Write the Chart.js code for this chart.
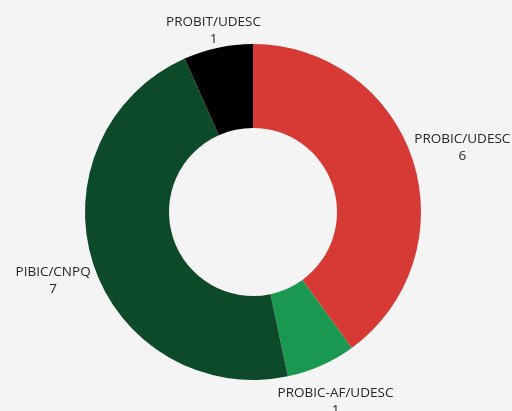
<!DOCTYPE html>
<html>
<head>
<meta charset="utf-8">
<script src="https://cdn.jsdelivr.net/npm/chart.js@4"></script>
<style>
  html, body { margin: 0; padding: 0; background: #f4f4f4; }
  #wrap { width: 512px; height: 411px; }
</style>
</head>
<body>
<div id="wrap"><canvas id="chart"></canvas></div>
<script>
const categories = ['PROBIC/UDESC', 'PROBIC-AF/UDESC', 'PIBIC/CNPQ', 'PROBIT/UDESC'];
const values = [6, 1, 7, 1];
const colors = ['#d73a34', '#1a9852', '#0c4a2a', '#000000'];

// draws "name\nvalue" outside each slice, pushed out along the slice's mid angle
const outsideLabels = {
    id: 'outsideLabels',
    afterDatasetsDraw(chart) {
        const ctx = chart.ctx;
        const meta = chart.getDatasetMeta(0);
        ctx.save();
        ctx.font = '13.5px "Open Sans", sans-serif';
        ctx.fillStyle = '#262626';
        ctx.textAlign = 'center';
        ctx.textBaseline = 'middle';
        const lineH = 17;
        meta.data.forEach((arc, i) => {
            const p = arc.getProps(['x', 'y', 'startAngle', 'endAngle', 'outerRadius'], true);
            const mid = (p.startAngle + p.endAngle) / 2;
            const dx = Math.cos(mid), dy = Math.sin(mid);
            const lines = [categories[i], String(values[i])];
            const w = Math.max(...lines.map(t => ctx.measureText(t).width));
            const r = p.outerRadius + 4 + Math.abs(dx) * w / 2 + Math.abs(dy) * 8;
            const cx = p.x + dx * r;
            const cy = p.y + dy * r + 4;
            lines.forEach((t, k) => {
                ctx.fillText(t, cx, cy + (k - (lines.length - 1) / 2) * lineH);
            });
        });
        ctx.restore();
    }
};

new Chart(document.getElementById('chart'), {
    type: 'doughnut',
    data: {
        labels: categories,
        datasets: [{
            data: values,
            backgroundColor: colors,
            borderWidth: 0
        }]
    },
    options: {
        responsive: true,
        maintainAspectRatio: false,
        animation: false,
        cutout: '50%',
        layout: { padding: { top: 44, bottom: 31, left: 80, right: 86 } },
        plugins: {
            legend: { display: false },
            tooltip: { enabled: false }
        }
    },
    plugins: [outsideLabels]
});
</script>
</body>
</html>
